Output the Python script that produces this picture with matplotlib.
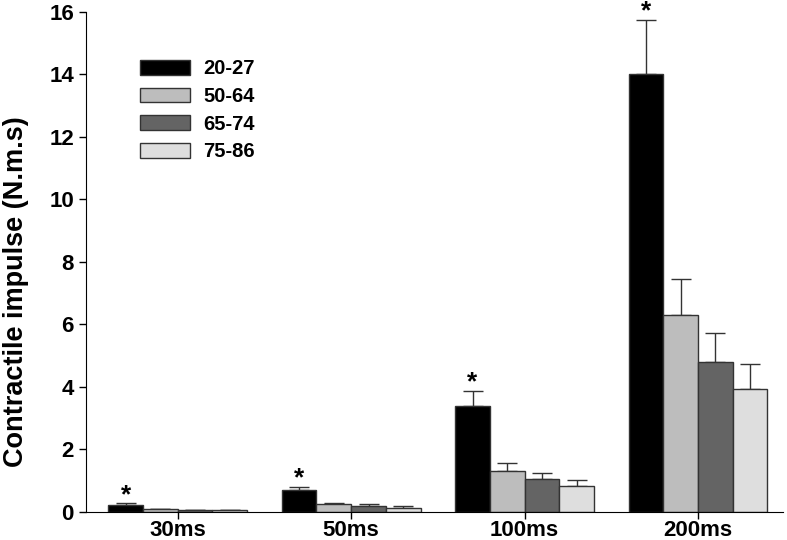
import numpy as np
import matplotlib
matplotlib.use("Agg")
import matplotlib.pyplot as plt

plt.rcParams['font.family'] = ['Liberation Sans', 'DejaVu Sans']
plt.rcParams['font.weight'] = 'bold'

# data
durations = ["30ms", "50ms", "100ms", "200ms"]
groups = ["20-27", "50-64", "65-74", "75-86"]
means = {
    "20-27": [0.22, 0.70, 3.39, 14.0],
    "50-64": [0.08, 0.25, 1.31, 6.30],
    "65-74": [0.05, 0.19, 1.05, 4.80],
    "75-86": [0.05, 0.14, 0.83, 3.92],
}
errs = {
    "20-27": [0.05, 0.11, 0.49, 1.75],
    "50-64": [0.02, 0.05, 0.27, 1.15],
    "65-74": [0.01, 0.05, 0.18, 0.92],
    "75-86": [0.01, 0.05, 0.18, 0.80],
}
significant = [True, True, True, True]
colors = ["#000000", "#bdbdbd", "#646464", "#dedede"]

fig = plt.figure(figsize=(7.87, 5.4), dpi=100)
ax = fig.add_axes([0.109, 0.052, 0.886, 0.926])

x = np.arange(len(durations))
w = 0.2
for i, g in enumerate(groups):
    pos = x + (i - 1.5) * w
    ax.bar(pos, means[g], width=w, color=colors[i], edgecolor="#333333",
           linewidth=1.0, label=g, zorder=2)
    ax.errorbar(pos, means[g], yerr=[np.zeros(len(x)), errs[g]], fmt="none",
                ecolor="#333333", elinewidth=1.0, capsize=7, capthick=1.0, zorder=1)

# stars over the young group
for j in range(len(durations)):
    if significant[j]:
        top = means["20-27"][j] + errs["20-27"][j]
        ax.text(x[j] - 1.5 * w, top - 0.12, "*", ha="center", va="bottom",
                fontsize=19, fontweight="bold", clip_on=False)

ax.set_xlim(-0.53, 3.49)
ax.set_ylim(0, 16)
ax.set_yticks(np.arange(0, 17, 2))
ax.set_xticks(x)
ax.set_xticklabels(durations)
ax.tick_params(axis="both", direction="out", length=5, width=1, labelsize=16)
ax.tick_params(axis="x", pad=1)
for lab in ax.get_xticklabels() + ax.get_yticklabels():
    lab.set_fontweight("bold")
ax.spines["top"].set_visible(False)
ax.spines["right"].set_visible(False)
ax.set_ylabel("Contractile impulse (N.m.s)", fontsize=19.5, fontweight="bold")
ax.yaxis.set_label_coords(-0.082, 0.44)

ax.legend(loc="upper left", bbox_to_anchor=(0.063, 0.925), frameon=False,
          handlelength=2.5, handleheight=0.75, labelspacing=0.43,
          borderpad=0, handletextpad=0.65, prop={"weight": "bold", "size": 14.5})

fig.savefig("out.png", dpi=100)
